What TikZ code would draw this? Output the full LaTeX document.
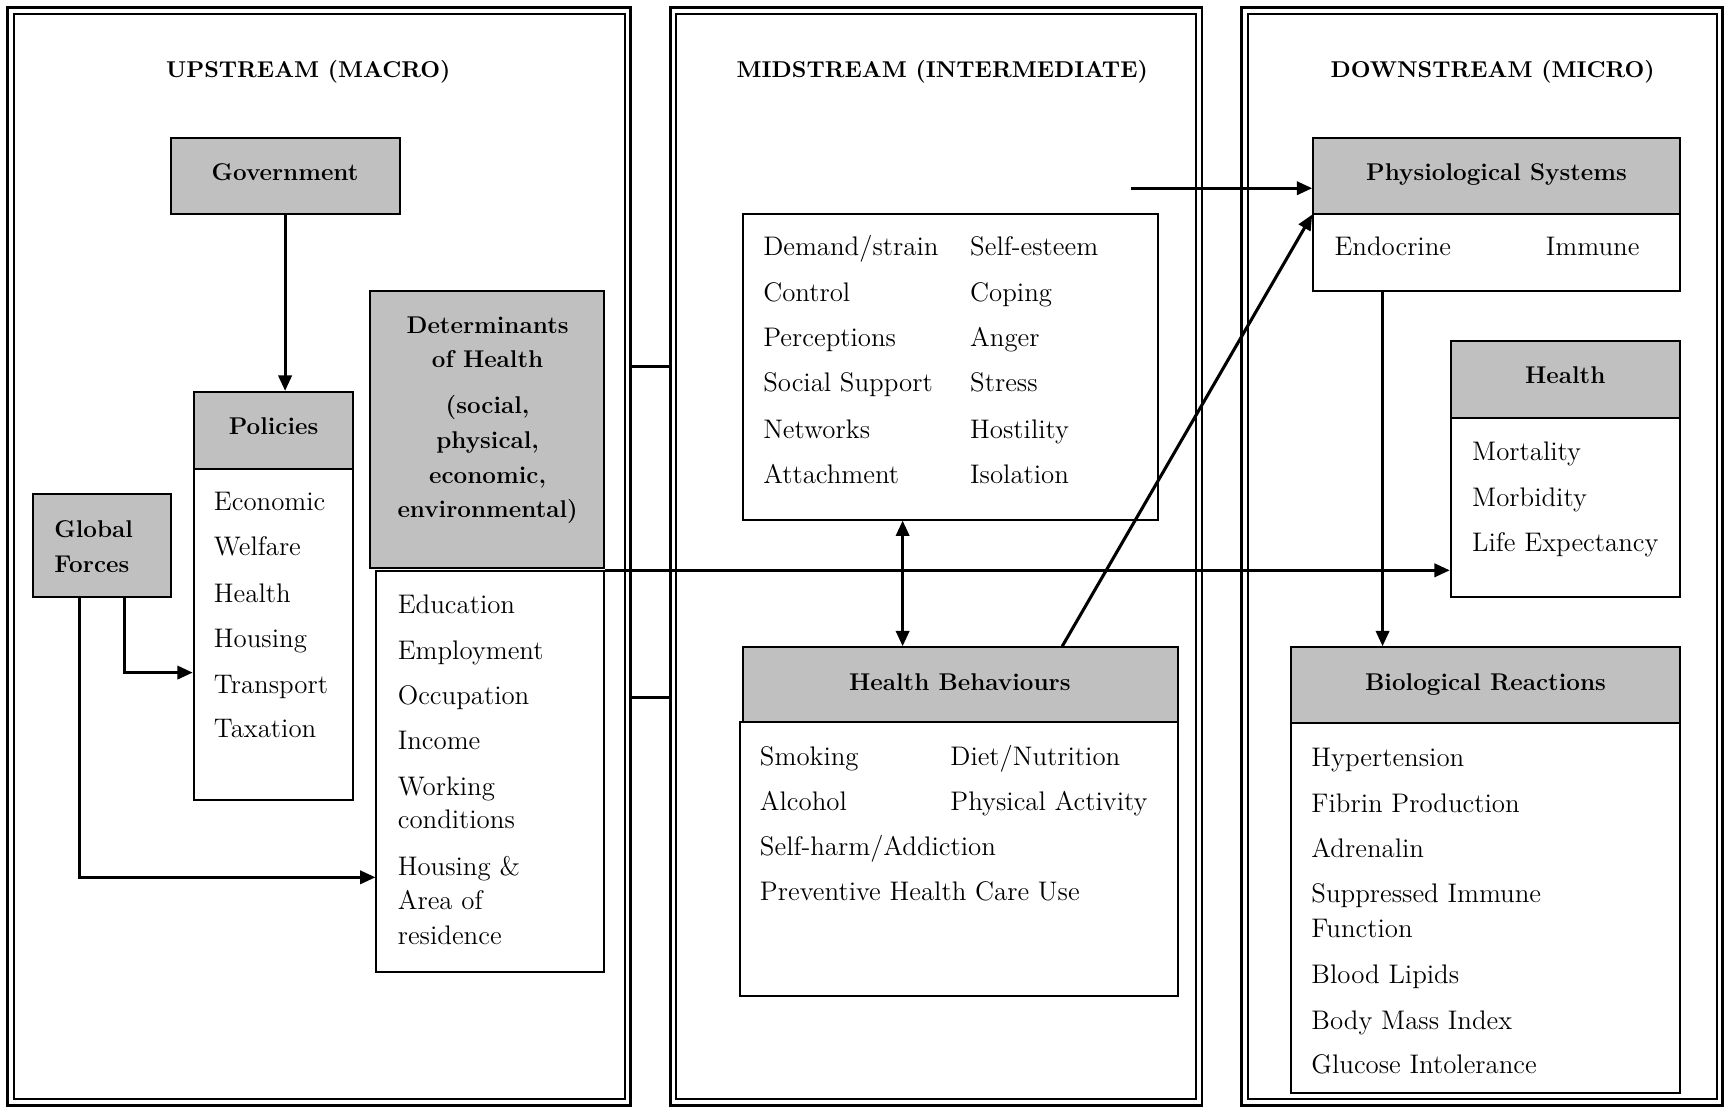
\documentclass[tikz,border=0pt]{standalone}
\usetikzlibrary{fit,arrows.meta}
\definecolor{hgray}{RGB}{192,192,192}
\newcommand\hfnt{\fontsize{11}{13.2}\selectfont\bfseries}
\newcommand\tfnt{\fontsize{10.4}{12.5}\selectfont\bfseries}
\newcommand\ifnt{\fontsize{12.2}{14.6}\selectfont}
\tikzset{
  box/.style={draw, line width=0.9pt, inner sep=0pt, fill=white},
  hbox/.style={draw, line width=0.9pt, inner sep=0pt, fill=hgray},
  outerpanel/.style={draw, line width=1.3pt, inner sep=0pt},
  innerpanel/.style={draw, line width=0.9pt, inner sep=0pt},
  item/.style={anchor=base west, inner sep=0pt, font=\ifnt},
  bitem/.style={anchor=base west, inner sep=0pt, font=\hfnt},
  dtxt/.style={anchor=base, inner sep=0pt, font=\hfnt},
  title/.style={anchor=base, inner sep=0pt, font=\tfnt},
  arr/.style={line width=1.4pt, -{Triangle[length=7pt,width=6pt]}},
  arrtwo/.style={line width=1.4pt, {Triangle[length=7pt,width=6pt]}-{Triangle[length=7pt,width=6pt]}},
  conn/.style={line width=1.4pt}
}
\begin{document}
\begin{tikzpicture}[x=0.5pt,y=-0.5pt]
\useasboundingbox (0,0) rectangle (1568,1007);
% panels
\node[outerpanel, fit={(7,7)(573,1004)}] (lp) {};
\node[innerpanel, fit={(12.5,12.5)(567.5,998.5)}] (lpi) {};
\node[outerpanel, fit={(609,7)(1092,1004)}] (mp) {};
\node[innerpanel, fit={(614.5,12.5)(1086.5,998.5)}] (mpi) {};
\node[outerpanel, fit={(1128,7)(1565,1004)}] (rp) {};
\node[innerpanel, fit={(1133.5,12.5)(1559.5,998.5)}] (rpi) {};
% titles
\node[title] (t1) at (280,70) {UPSTREAM (MACRO)};
\node[title] (t2) at (856,70) {MIDSTREAM (INTERMEDIATE)};
\node[title] (t3) at (1356,70) {DOWNSTREAM (MICRO)};
% links between panels
\coordinate (k1) at (0,333);
\coordinate (k2) at (0,634);
\draw[conn] (lp.east |- k1) -- (mp.west |- k1);
\draw[conn] (lp.east |- k2) -- (mp.west |- k2);
% ---------- upstream
\node[hbox, fit={(155,125)(363,194)}] (gov) {};
\node[dtxt] (govt) at (259,164) {Government};
\node[hbox, fit={(176,356)(321,426)}] (pol) {};
\node[dtxt] (polt) at (248.5,395) {Policies};
\node[box, fit={(176,426)(321,727)}] (polbody) {};
\node[item] (p1) at (194,464) {Economic};
\node[item] (p2) at (194,505) {Welfare};
\node[item] (p3) at (194,547) {Health};
\node[item] (p4) at (194,588) {Housing};
\node[item] (p5) at (194,630) {Transport};
\node[item] (p6) at (194,670) {Taxation};
\node[hbox, fit={(30,449)(155,542)}] (gf) {};
\node[bitem] (gf1) at (49,488) {Global};
\node[bitem] (gf2) at (49,520) {Forces};
\node[hbox, fit={(336,264)(549,516)}] (det) {};
\node[dtxt] (d1) at (443,303) {Determinants};
\node[dtxt] (d2) at (443,334) {of Health};
\node[dtxt] (d3) at (443,376) {(social,};
\node[dtxt] (d4) at (443,407) {physical,};
\node[dtxt] (d5) at (443,439) {economic,};
\node[dtxt] (d6) at (443,470) {environmental)};
\node[box, fit={(342,519)(549,883)}] (detbody) {};
\node[item] (e1) at (361,557) {Education};
\node[item] (e2) at (361,599) {Employment};
\node[item] (e3) at (361,640) {Occupation};
\node[item] (e4) at (361,681) {Income};
\node[item] (e5) at (361,723) {Working};
\node[item] (e6) at (361,753) {conditions};
\node[item] (e7) at (361,795) {Housing \&};
\node[item] (e8) at (361,826) {Area of};
\node[item] (e9) at (361,858) {residence};
% ---------- midstream
\node[box, fit={(675,194)(1052,472)}] (psy) {};
\node[item] (s1) at (693,232) {Demand/strain};
\node[item] (s2) at (693,274) {Control};
\node[item] (s3) at (693,315) {Perceptions};
\node[item] (s4) at (693,356) {Social Support};
\node[item] (s5) at (693,398) {Networks};
\node[item] (s6) at (693,439) {Attachment};
\node[item] (s7) at (881,232) {Self-esteem};
\node[item] (s8) at (881,274) {Coping};
\node[item] (s9) at (881,315) {Anger};
\node[item] (s10) at (881,356) {Stress};
\node[item] (s11) at (881,398) {Hostility};
\node[item] (s12) at (881,439) {Isolation};
\node[hbox, fit={(675,588)(1070,656)}] (hbh) {};
\node[dtxt] (hbht) at (872,627) {Health Behaviours};
\node[box, fit={(672,656)(1070,905)}] (hbbody) {};
\node[item] (h1) at (690,695) {Smoking};
\node[item] (h2) at (863,695) {Diet/Nutrition};
\node[item] (h3) at (690,736) {Alcohol};
\node[item] (h4) at (863,736) {Physical Activity};
\node[item] (h5) at (690,777) {Self-harm/Addiction};
\node[item] (h6) at (690,818) {Preventive Health Care Use};
% ---------- downstream
\node[hbox, fit={(1193,125)(1526,194)}] (phys) {};
\node[dtxt] (physt) at (1359.5,164) {Physiological Systems};
\node[box, fit={(1193,194)(1526,264)}] (physbody) {};
\node[item] (y1) at (1212,232) {Endocrine};
\node[item] (y2) at (1404,232) {Immune};
\node[hbox, fit={(1318,310)(1526,380)}] (hlth) {};
\node[dtxt] (hlthtx) at (1422,348) {Health};
\node[box, fit={(1318,380)(1526,542)}] (hlthbody) {};
\node[item] (m1) at (1337,418) {Mortality};
\node[item] (m2) at (1337,460) {Morbidity};
\node[item] (m3) at (1337,501) {Life Expectancy};
\node[hbox, fit={(1173,588)(1526,657)}] (bio) {};
\node[dtxt] (biot) at (1349.5,627) {Biological Reactions};
\node[box, fit={(1173,657)(1526,993)}] (biobody) {};
\node[item] (b1) at (1191,696) {Hypertension};
\node[item] (b2) at (1191,738) {Fibrin Production};
\node[item] (b3) at (1191,779) {Adrenalin};
\node[item] (b4) at (1191,820) {Suppressed Immune};
\node[item] (b5) at (1191,852) {Function};
\node[item] (b6) at (1191,893) {Blood Lipids};
\node[item] (b7) at (1191,935) {Body Mass Index};
\node[item] (b8) at (1191,975) {Glucose Intolerance};
% ---------- connectors
\coordinate (c0) at (259,0);
\draw[arr] (gov.south -| c0) -- (pol.north -| c0);
\coordinate (g1) at (113,611);
\draw[arr] (gf.south -| g1) -- (g1) -- (g1 -| polbody.west);
\coordinate (g2) at (72,797);
\draw[arr] (gf.south -| g2) -- (g2) -- (g2 -| detbody.west);
\draw[arr] (detbody.north east) -- (detbody.north east -| hlthbody.west);
\coordinate (c3) at (820,0);
\draw[arrtwo] (psy.south -| c3) -- (hbh.north -| c3);
\coordinate (c4) at (965,0);
\draw[arr] (hbh.north -| c4) -- (phys.south west);
\coordinate (c5) at (1027,171);
\draw[arr] (c5) -- (c5 -| phys.west);
\coordinate (c7) at (1256,0);
\draw[arr] (physbody.south -| c7) -- (bio.north -| c7);
\end{tikzpicture}
\end{document}
